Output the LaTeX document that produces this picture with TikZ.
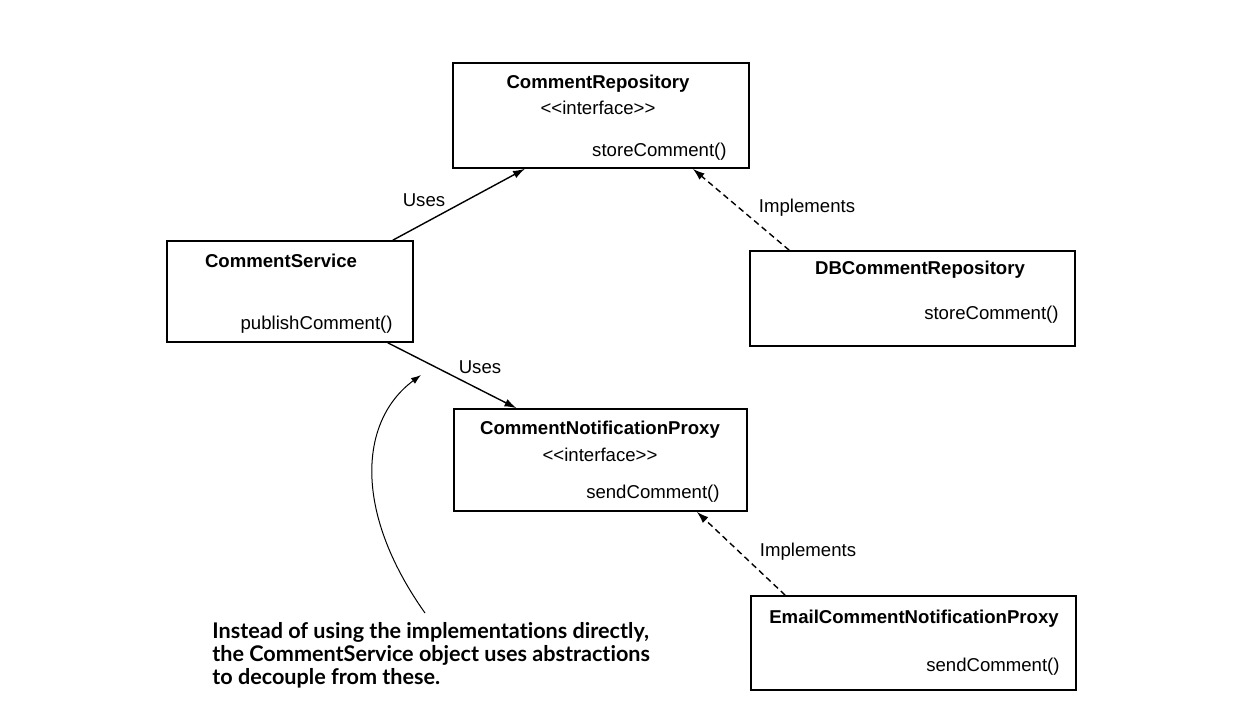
\documentclass[tikz,border=0pt]{standalone}
\usepackage{fontspec}
\setmainfont{Liberation Sans}
\newfontfamily\notefont[Ligatures=NoCommon]{Lato}
\usetikzlibrary{arrows.meta}

\tikzstyle{classbox}=[draw, line width=0.8pt, inner sep=0pt]
\tikzstyle{title}=[font=\fontsize{9.3}{11}\selectfont\bfseries, inner sep=0pt, yshift=-1pt]
\tikzstyle{member}=[font=\fontsize{9.3}{11}\selectfont, inner sep=0pt, yshift=-1pt]
\tikzstyle{uses}=[line width=0.7pt, -{Latex[length=6pt,width=4pt]}]
\tikzstyle{implements}=[uses, dashed, dash pattern=on 3pt off 2pt]

\begin{document}
\begin{tikzpicture}[x=0.5pt,y=-0.5pt]
  \useasboundingbox (0,0) rectangle (1258,706);

  % interfaces
  \node[classbox, minimum width=148pt, minimum height=52.5pt] (repo) at (601,115.5) {};
  \node[title] at (598,82) {CommentRepository};
  \node[member] at (598,106) {{<}{<}interface{>}{>}};
  \node[member, anchor=east] at (727,150) {storeComment()};

  \node[classbox, minimum width=146.5pt, minimum height=51pt] (proxy) at (600.5,460) {};
  \node[title] at (600,428) {CommentNotificationProxy};
  \node[member] at (600,453) {{<}{<}interface{>}{>}};
  \node[member, anchor=east] at (720,492) {sendComment()};

  % service
  \node[classbox, minimum width=123pt, minimum height=50.5pt] (svc) at (290,291.5) {};
  \node[title] at (281,259) {CommentService};
  \node[member, anchor=east] at (393,323) {publishComment()};

  % implementations
  \node[classbox, minimum width=162.5pt, minimum height=47.5pt] (dbrepo) at (912.5,298.5) {};
  \node[title] at (920,268) {DBCommentRepository};
  \node[member, anchor=east] at (1059,313) {storeComment()};

  \node[classbox, minimum width=162.5pt, minimum height=47pt] (email) at (913.5,643) {};
  \node[title] at (914,617) {EmailCommentNotificationProxy};
  \node[member, anchor=east] at (1060,665) {sendComment()};

  % relations
  \draw[uses] ([xshift=-10.5pt]svc.north east) -- ([xshift=-38pt]repo.south);
  \node[member] at (424,198) {Uses};
  \draw[uses] ([xshift=-13pt]svc.south east) -- ([xshift=-42pt]proxy.north);
  \node[member] at (480,365) {Uses};
  \draw[implements] ([xshift=20pt]dbrepo.north west) -- ([xshift=-28.5pt]repo.south east);
  \node[member] at (807,206) {Implements};
  \draw[implements] ([xshift=17.5pt]email.north west) -- ([xshift=-25.5pt]proxy.south east);
  \node[member] at (808,550) {Implements};

  % note
  \node[anchor=north west, align=left, inner sep=0pt,
        font=\notefont\fontsize{10.8}{11.5}\selectfont\bfseries] (note) at (212,622)
    {Instead of using the implementations directly,\\
     the CommentService object uses abstractions\\
     to decouple from these.};
  \coordinate (tip) at (421,375);
  \draw[line width=0.5pt, -{Latex[length=5pt,width=3.5pt]}] (425,613) .. controls (352,510) and (360,420) .. (tip);

\end{tikzpicture}
\end{document}
